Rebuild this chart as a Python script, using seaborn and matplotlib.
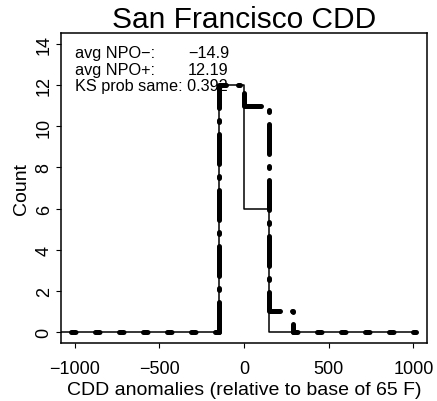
import numpy as np
import pandas as pd
import matplotlib
matplotlib.use("Agg")
import matplotlib.pyplot as plt
import seaborn as sns

# ---- data ----
bin_edges = [-1160, -1015, -870, -725, -580, -435, -290, -145, 0, 145, 290, 435, 580, 725, 870, 1015]
counts_solid = [0, 0, 0, 0, 0, 0, 0, 12, 6, 0, 0, 0, 0, 0, 0]
counts_thick = [0, 0, 0, 0, 0, 0, 0, 12, 11, 1, 0, 0, 0, 0, 0]
x_ticks = [-1000, -500, 0, 500, 1000]
y_ticks = [0, 2, 4, 6, 8, 10, 12, 14]
stats_labels = ["avg NPO\u2212:", "avg NPO+:"]
stats_values = ["\u221214.9", "12.19"]
ks_label = "KS prob same: 0.392"

sns.set_style("white")
plt.rcParams["font.family"] = ["Liberation Sans", "DejaVu Sans"]
plt.rcParams["axes.unicode_minus"] = True
for k in ("text.color", "axes.labelcolor", "xtick.color", "ytick.color", "axes.edgecolor"):
    plt.rcParams[k] = "black"

fig = plt.figure(figsize=(4.37, 4.02), dpi=100)
ax = fig.add_axes([61 / 437, 1 - 344 / 402, 366 / 437, 310 / 402])

# solid thin step line
df_s = pd.DataFrame({"x": bin_edges, "y": counts_solid + [counts_solid[-1]]})
sns.lineplot(data=df_s, x="x", y="y", ax=ax, estimator=None, sort=False,
             drawstyle="steps-post", color="black", linewidth=1.1, zorder=3)

# thick dash-dot step line
cb = np.array(counts_thick)
nz = np.nonzero(cb)[0]
i0, i1 = nz[0], nz[-1] + 1
cx = [bin_edges[i0]] + bin_edges[i0:i1 + 1]
cy = [0] + counts_thick[i0:i1] + [0]
df_c = pd.DataFrame({"x": cx, "y": cy})
sns.lineplot(data=df_c, x="x", y="y", ax=ax, estimator=None, sort=False,
             drawstyle="steps-post", color="black", linewidth=3.6, zorder=4)
ln = ax.lines[-1]
ln.set_dashes((6.0, 2.4, 0.4, 2.4))
ln.set_dash_capstyle("round")
ln.set_solid_capstyle("round")

# zero tails of thick line
for tx in (bin_edges[:i0 + 1], bin_edges[i1:]):
    df_t = pd.DataFrame({"x": tx, "y": [0] * len(tx)})
    sns.lineplot(data=df_t, x="x", y="y", ax=ax, estimator=None, sort=False,
                 color="black", linewidth=3.6, zorder=4)
    lt = ax.lines[-1]
    lt.set_dashes((0.9, 3.9))
    lt.set_dash_capstyle("round")

ax.set_xlim(-1080, 1080)
ax.set_ylim(-0.56, 14.56)
ax.set_xticks(x_ticks)
ax.set_yticks(y_ticks)
ax.tick_params(axis="both", direction="out", length=3.5, width=0.8, color="black",
               labelsize=13, labelcolor="black")
ax.tick_params(axis="x", pad=8.5)
ax.tick_params(axis="y", pad=2.5)
ax.tick_params(axis="both", bottom=True, left=True, top=False, right=False)
for lab in ax.get_yticklabels():
    lab.set_rotation(90)
    lab.set_va("center")
for sp in ax.spines.values():
    sp.set_visible(True)
    sp.set_color("black")
    sp.set_linewidth(1.1)

ax.set_xlabel("CDD anomalies (relative to base of 65 F)", fontsize=14, labelpad=3)
ax.set_ylabel("Count", fontsize=14, labelpad=4)
ax.set_title("San Francisco CDD", fontsize=21.5, pad=4)

ys = [13.6, 12.8]
for lab, val, yy in zip(stats_labels, stats_values, ys):
    ax.text(-1000, yy, lab, fontsize=11.7, va="center", ha="left", zorder=2)
    ax.text(-331, yy, val, fontsize=11.7, va="center", ha="left", zorder=2)
ax.text(-1000, 12.0, ks_label, fontsize=11.7, va="center", ha="left", zorder=2)

fig.savefig("out.png", dpi=100)
